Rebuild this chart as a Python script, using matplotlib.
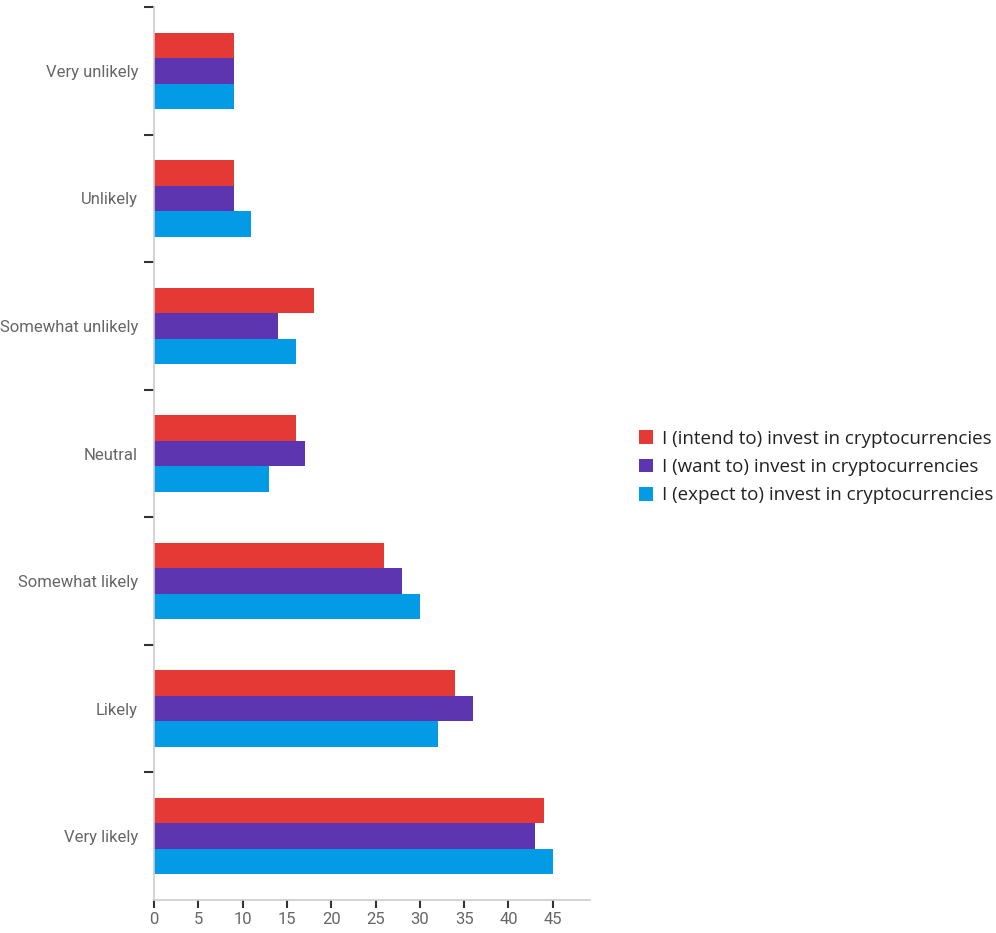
import matplotlib
matplotlib.use("Agg")
import matplotlib.pyplot as plt
import numpy as np

categories = ["Very unlikely", "Unlikely", "Somewhat unlikely", "Neutral",
              "Somewhat likely", "Likely", "Very likely"]
intend = [9, 9, 18, 16, 26, 34, 44]
want = [9, 9, 14, 17, 28, 36, 43]
expect = [9, 11, 16, 13, 30, 32, 45]
series_labels = ["I (intend to) invest in cryptocurrencies",
                 "I (want to) invest in cryptocurrencies",
                 "I (expect to) invest in cryptocurrencies"]
colors = ["#E53935", "#5E35B1", "#039BE5"]
xticks = [0, 5, 10, 15, 20, 25, 30, 35, 40, 45]

fig = plt.figure(figsize=(9.96, 9.33), dpi=100)
ax = fig.add_axes([154/996, 33/933, 436/996, 893/933])

y = np.arange(len(categories))
h = 0.2
for k, (vals, lab, c) in enumerate(zip([intend, want, expect], series_labels, colors)):
    ax.barh(y + (k - 1) * h, vals, height=h, color=c, label=lab, zorder=2)

ax.set_ylim(len(categories) - 0.5, -0.5)
ax.set_xlim(0, 49.2)

ax.set_yticks(y)
ax.set_yticklabels(categories)
ax.set_yticks(np.arange(len(categories)) - 0.5, minor=True)
ax.tick_params(axis="y", which="major", length=0, pad=11.5, labelsize=12, labelcolor="#666666")
ax.tick_params(axis="y", which="minor", length=7, width=1.5, color="#333333")
ax.set_xticks(xticks)
ax.tick_params(axis="x", length=6, width=1.5, color="#333333", pad=3, labelsize=12, labelcolor="#666666")

for s in ["top", "right"]:
    ax.spines[s].set_visible(False)
for s in ["left", "bottom"]:
    ax.spines[s].set_color("#cccccc")
    ax.spines[s].set_linewidth(1.2)

for t in ax.get_yticklabels() + ax.get_xticklabels():
    t.set_family(["Roboto", "DejaVu Sans"])

leg = fig.legend(loc="center left", bbox_to_anchor=(622/996, 466/933), frameon=False,
                 prop={"family": ["Open Sans", "DejaVu Sans"], "size": 13.5},
                 handlelength=0.75, handleheight=0.75, handletextpad=0.5, labelspacing=0.55)
for t in leg.get_texts():
    t.set_color("#222222")

fig.savefig("out.png", dpi=100)
